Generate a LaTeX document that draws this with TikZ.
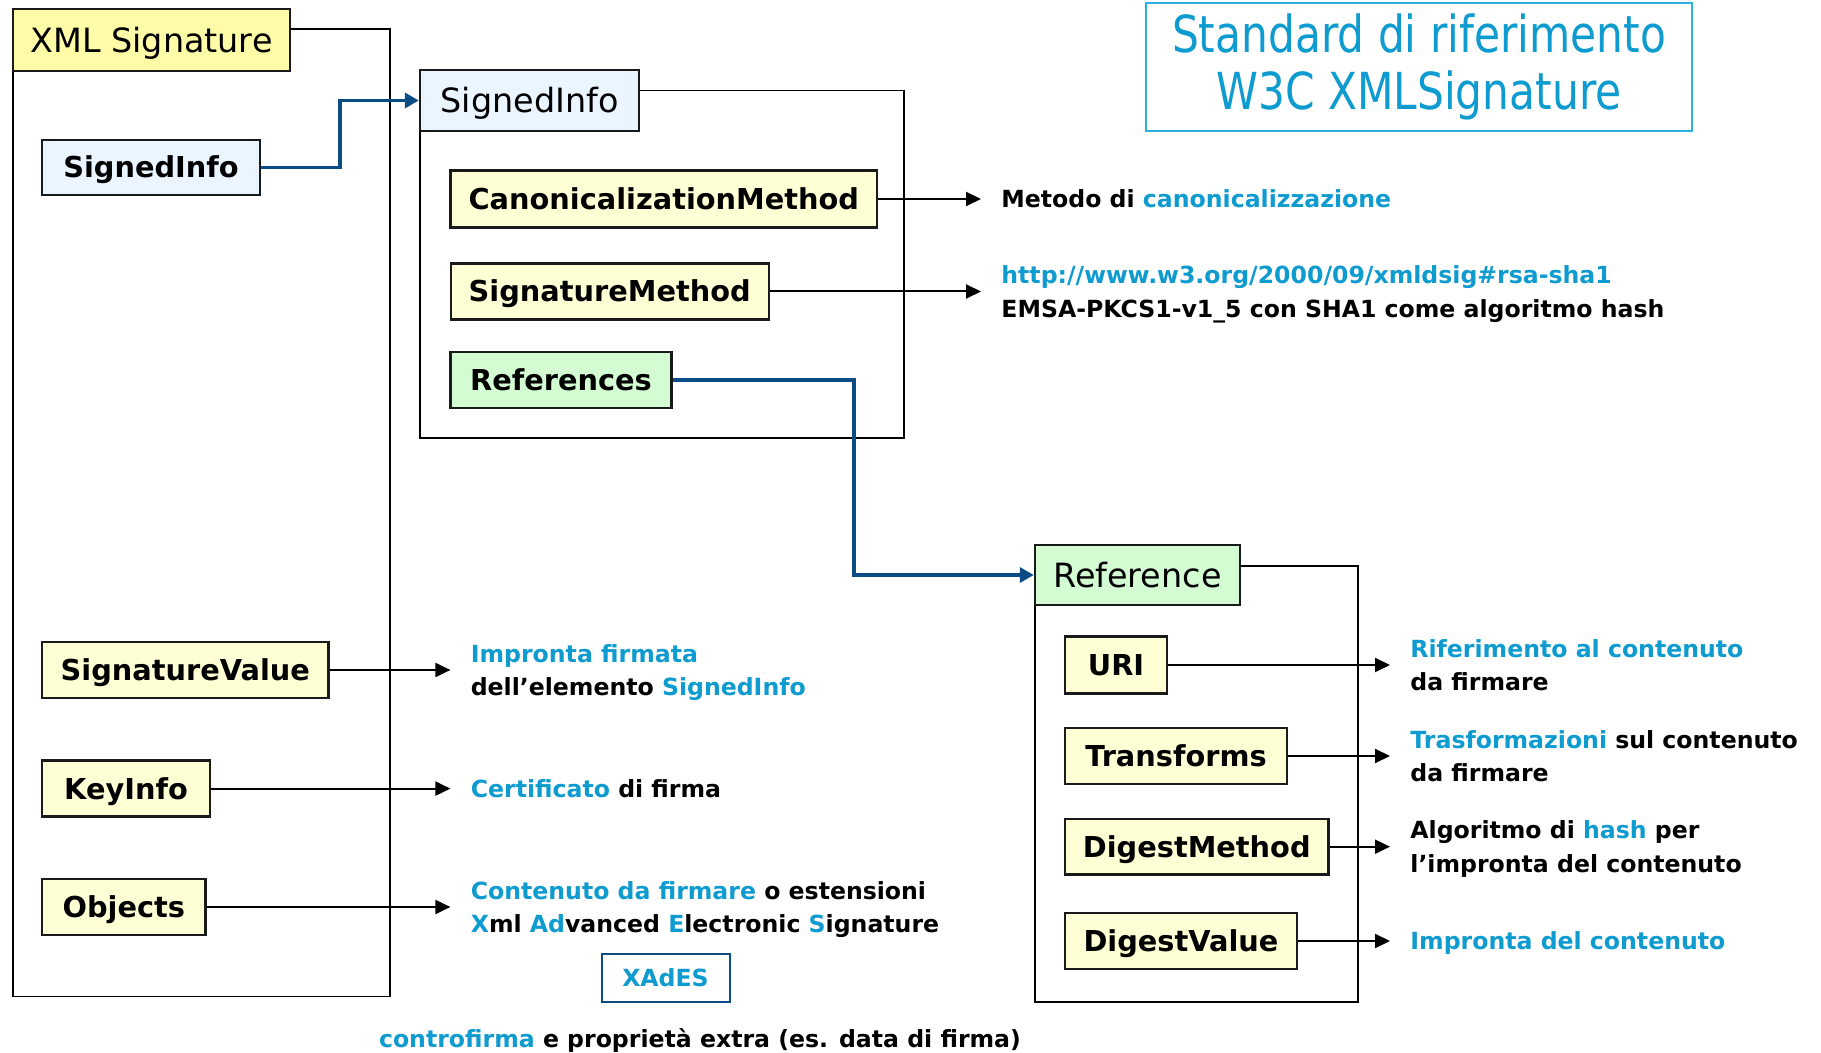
\documentclass[tikz,border=0pt]{standalone}
\usepackage{fontspec}
\setmainfont{DejaVu Sans}
\newfontfamily\titlefont{DejaVu Sans}[FakeStretch=0.83]
\usetikzlibrary{arrows.meta}

\definecolor{hdryellow}{HTML}{FFFCA8}
\definecolor{lyellow}{HTML}{FFFFD6}
\definecolor{lblue}{HTML}{EAF5FF}
\definecolor{lgreen}{HTML}{D3FCD3}
\definecolor{tblue}{HTML}{0E9BCF}
\definecolor{connblue}{HTML}{0B4C86}
\definecolor{titleline}{HTML}{2DB1DD}
\definecolor{boxline}{HTML}{1A1A1A}

\newcommand{\mynodefont}{\fontsize{14.4}{17}\selectfont\bfseries}
\newcommand{\myhdrfont}{\fontsize{16.7}{20}\selectfont}
\newcommand{\mylblfont}{\fontsize{11.8}{16.8}\selectfont\bfseries}
\newcommand{\hib}[1]{\textcolor{tblue}{#1}}

\begin{document}
\begin{tikzpicture}[x=0.5pt,y=-0.5pt,
  box/.style={draw=boxline, line width=1.2pt, inner sep=0pt, font=\mynodefont,
              text height=10.5pt, text depth=0pt},
  ybox/.style={box, fill=lyellow},
  hdr/.style={draw=boxline, line width=1.2pt, inner sep=0pt, font=\myhdrfont,
              text height=12.2pt, text depth=0pt},
  frame/.style={draw=black, line width=0.9pt},
  arr/.style={draw=black, line width=1pt, -{Triangle[length=7.5pt,width=7pt]}},
  conn/.style={draw=connblue, line width=1.9pt, -{Triangle[length=7pt,width=7.5pt]}},
  lbl/.style={anchor=west, inner sep=0pt, align=left, font=\mylblfont, text depth=0pt},
]
% canvas
\path[fill=white] (0,0) rectangle (1821,1053);

% container frames
\draw[frame] (290,29) -- (390,29) -- (390,996.5) -- (13,996.5) -- (13,71);
\draw[frame] (639,90.6) -- (903.6,90.6) -- (903.6,438) -- (420,438) -- (420,131);
\draw[frame] (1240,565.6) -- (1357.7,565.6) -- (1357.7,1002) -- (1035,1002) -- (1035,605);

% headers
\node[hdr, fill=hdryellow, minimum width=138.5pt, minimum height=31pt] (xmlhdr) at (151.5,40) {XML Signature};
\node[hdr, fill=lblue, minimum width=109.5pt, minimum height=30.5pt] (sihdr) at (529.5,100.5) {SignedInfo};
\node[hdr, fill=lgreen, minimum width=102.5pt, minimum height=30pt] (refhdr) at (1137.5,575) {Reference};

% XML Signature children
\node[box, fill=lblue, minimum width=109pt, minimum height=27.5pt] (si1) at (151,167.5) {SignedInfo};
\node[ybox, minimum width=143.3pt, minimum height=28pt] (sigv) at (185.3,670) {SignatureValue};
\node[ybox, minimum width=84pt, minimum height=28pt] (keyi) at (126,788.6) {KeyInfo};
\node[ybox, minimum width=81.8pt, minimum height=28pt] (objs) at (123.8,907) {Objects};

% SignedInfo children
\node[ybox, minimum width=213.2pt, minimum height=28.5pt] (canon) at (663.8,199) {CanonicalizationMethod};
\node[ybox, minimum width=159pt, minimum height=28pt] (sigm) at (609.7,291.5) {SignatureMethod};
\node[box, fill=lgreen, minimum width=110.5pt, minimum height=28pt] (refs) at (561,380) {References};

% Reference children
\node[ybox, minimum width=51pt, minimum height=28.5pt] (uri) at (1116,665) {URI};
\node[ybox, minimum width=111pt, minimum height=28pt] (transf) at (1176,756) {Transforms};
\node[ybox, minimum width=131.8pt, minimum height=27.8pt] (dmeth) at (1196.8,846.7) {DigestMethod};
\node[ybox, minimum width=116pt, minimum height=27.8pt] (dval) at (1181,941) {DigestValue};

% title
\node[draw=titleline, line width=1pt, minimum width=273pt, minimum height=64pt, inner sep=0pt,
      align=center, text=tblue, font=\titlefont\fontsize{25.5}{28.5}\selectfont] (title) at (1419,67)
      {Standard di riferimento\\W3C XMLSignature};

% descriptions
\node[lbl] (lcanon) at (1001,199) {Metodo di \hib{canonicalizzazione}};
\node[lbl] (lsigm) at (1001,291.5) {\hib{http://www.w3.org/2000/09/xmldsig\#rsa-sha1}\\EMSA-PKCS1-v1\_5 con SHA1 come algoritmo hash};
\node[lbl] (lsigv) at (470.4,670) {\hib{Impronta firmata}\\dell’elemento \hib{SignedInfo}};
\node[lbl] (lkey) at (470.4,788.6) {\hib{Certificato} di firma};
\node[lbl] (lobj) at (470.4,907) {\hib{Contenuto da firmare} o estensioni\\\hib{X}ml \hib{Ad}vanced \hib{E}lectronic \hib{S}ignature};
\node[lbl] (luri) at (1410,665) {\hib{Riferimento al contenuto}\\da firmare};
\node[lbl] (ltr) at (1410,756) {\hib{Trasformazioni} sul contenuto\\da firmare};
\node[lbl] (ldm) at (1410,846.7) {Algoritmo di \hib{hash} per\\l’impronta del contenuto};
\node[lbl] (ldv) at (1410,941) {\hib{Impronta del contenuto}};

\node[draw=connblue, line width=1pt, fill=white, minimum width=64pt, minimum height=24.4pt, inner sep=0pt,
      font=\mylblfont, text=tblue, text depth=0pt] (xades) at (665.5,978) {XAdES};
\node[lbl, anchor=center] (lxtra) at (700,1038) {\hib{controfirma} e proprietà extra (es. data di firma)};

% arrows to descriptions
\draw[arr] (canon.east) -- ([xshift=-10pt]lcanon.west);
\draw[arr] (sigm.east) -- ([xshift=-10pt]lsigm.west);
\draw[arr] (sigv.east) -- ([xshift=-10pt]lsigv.west);
\draw[arr] (keyi.east) -- ([xshift=-10pt]lkey.west);
\draw[arr] (objs.east) -- ([xshift=-10pt]lobj.west);
\draw[arr] (uri.east) -- ([xshift=-10pt]luri.west);
\draw[arr] (transf.east) -- ([xshift=-10pt]ltr.west);
\draw[arr] (dmeth.east) -- ([xshift=-10pt]ldm.west);
\draw[arr] (dval.east) -- ([xshift=-10pt]ldv.west);

% expansion links
\draw[conn] (si1.east) -- (340,167.5) |- (sihdr.west);
\draw[conn] (refs.east) -- (853.6,380) |- (refhdr.west);
\end{tikzpicture}
\end{document}
